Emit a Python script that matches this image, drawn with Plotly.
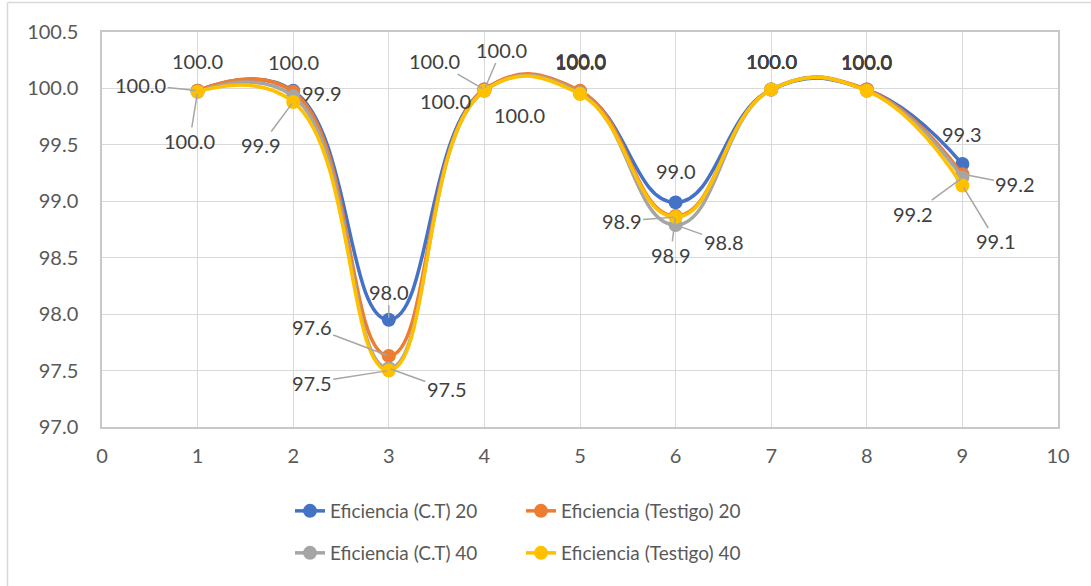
import plotly.graph_objects as go

# Measurement index (x) and efficiency series (%)
x_vals = [1, 2, 3, 4, 5, 6, 7, 8, 9]
ef_ct_20 = [99.98, 99.98, 97.95, 99.99, 99.97, 98.99, 99.99, 99.99, 99.33]
ef_testigo_20 = [99.98, 99.97, 97.63, 99.99, 99.98, 98.87, 99.99, 99.99, 99.24]
ef_ct_40 = [99.97, 99.93, 97.52, 99.98, 99.96, 98.79, 99.99, 99.98, 99.21]
ef_testigo_40 = [99.97, 99.88, 97.50, 99.98, 99.95, 98.86, 99.99, 99.98, 99.14]

names = [
    "Eficiencia (C.T) 20",
    "Eficiencia (Testigo) 20",
    "Eficiencia (C.T) 40",
    "Eficiencia (Testigo) 40",
]
series = [ef_ct_20, ef_testigo_20, ef_ct_40, ef_testigo_40]
colors = ["#4472C4", "#ED7D31", "#A5A5A5", "#FFC000"]
legend_ids = ["legend", "legend", "legend2", "legend2"]

# Label placement per series and point: (dx, dy, leader line); None = no label
label_pos = [
    [(0, -30, False), (0, -29, False), (0, -28, True), (-50, -29, True), (0, -30, False),
     (0, -31, False), (0, -29, False), (0, -29, False), (0, -30, False)],
    [(-57, -6, True), None, (-77, -29, True), (17, -40, True), (0, -31, False),
     (-5, 39, True), (0, -29, False), (0, -29, False), (53, 10, True)],
    [(-8, 49, True), (29, -3, False), (58, 21, True), (-39, 10, False), (0, -32, False),
     (48, 17, True), (0, -29, False), (0, -29, False), (-49, 36, True)],
    [None, (-32, 43, True), (-77, 12, True), (35, 24, False), (0, -33, False),
     (-54, 4, True), (0, -29, False), (0, -29, False), (34, 56, True)],
]

FONT = "Lato, 'Open Sans', sans-serif"
TICK_COLOR = "#595959"
LABEL_COLOR = "#404040"

fig = go.Figure()
for name, vals, col, lg in zip(names, series, colors, legend_ids):
    fig.add_trace(go.Scatter(
        x=x_vals, y=vals, name=name, mode="lines+markers",
        line=dict(color=col, width=3.5, shape="spline", smoothing=1.3),
        marker=dict(color=col, size=14),
        legend=lg,
    ))

annotations = []
for vals, positions in zip(series, label_pos):
    for xv, yv, pos in zip(x_vals, vals, positions):
        if pos is None:
            continue
        dx, dy, leader = pos
        txt = f"{yv:.1f}"
        if leader:
            annotations.append(dict(
                x=xv, y=yv, xref="x", yref="y", text=txt,
                showarrow=True, ax=dx, ay=dy, arrowhead=0, arrowwidth=1.5,
                arrowcolor="#A6A6A6", standoff=2,
                font=dict(family=FONT, size=20, color=LABEL_COLOR),
            ))
        else:
            annotations.append(dict(
                x=xv, y=yv, xref="x", yref="y", text=txt,
                showarrow=False, xshift=dx, yshift=-dy,
                font=dict(family=FONT, size=20, color=LABEL_COLOR),
            ))

W, H = 1091, 586
ML, MR, MT, MB = 102, 33, 32, 159
pw, ph = W - ML - MR, H - MT - MB


def px_x(p):
    return (p - ML) / pw


def px_y(p):
    return (H - MB - p) / ph


fig.update_layout(
    width=W, height=H,
    margin=dict(l=ML, r=MR, t=MT, b=MB),
    paper_bgcolor="white", plot_bgcolor="white",
    font=dict(family=FONT, size=20, color=TICK_COLOR),
    xaxis=dict(
        range=[0, 10], dtick=1, tick0=0, showgrid=True, gridcolor="#D9D9D9",
        gridwidth=1.3, zeroline=False, showline=True, linecolor="#C8C8C8",
        linewidth=1.5, mirror=True, ticks="outside", ticklen=10,
        tickcolor="rgba(0,0,0,0)", tickfont=dict(size=20, color=TICK_COLOR),
    ),
    yaxis=dict(
        range=[97, 100.5], dtick=0.5, tick0=97, tickformat=".1f", showgrid=True,
        gridcolor="#D9D9D9", gridwidth=1.3, zeroline=False, showline=True,
        linecolor="#C8C8C8", linewidth=1.5, mirror=True, ticks="outside",
        ticklen=18, tickcolor="rgba(0,0,0,0)",
        tickfont=dict(size=20, color=TICK_COLOR),
    ),
    legend=dict(
        orientation="h", x=px_x(290), y=px_y(511), xanchor="left", yanchor="middle",
        entrywidth=186, entrywidthmode="pixels",
        font=dict(family=FONT, size=19, color=TICK_COLOR), bgcolor="rgba(0,0,0,0)",
    ),
    legend2=dict(
        orientation="h", x=px_x(290), y=px_y(553), xanchor="left", yanchor="middle",
        entrywidth=186, entrywidthmode="pixels",
        font=dict(family=FONT, size=19, color=TICK_COLOR), bgcolor="rgba(0,0,0,0)",
    ),
    annotations=annotations,
    shapes=[
        dict(type="line", xref="paper", yref="paper",
             x0=px_x(7.5), x1=px_x(7.5), y0=px_y(2.5), y1=px_y(600),
             line=dict(color="#D9D9D9", width=1.5)),
        dict(type="line", xref="paper", yref="paper",
             x0=px_x(7.5), x1=px_x(1100), y0=px_y(2.5), y1=px_y(2.5),
             line=dict(color="#D9D9D9", width=1.5)),
    ],
)

fig.write_html("out.html")
